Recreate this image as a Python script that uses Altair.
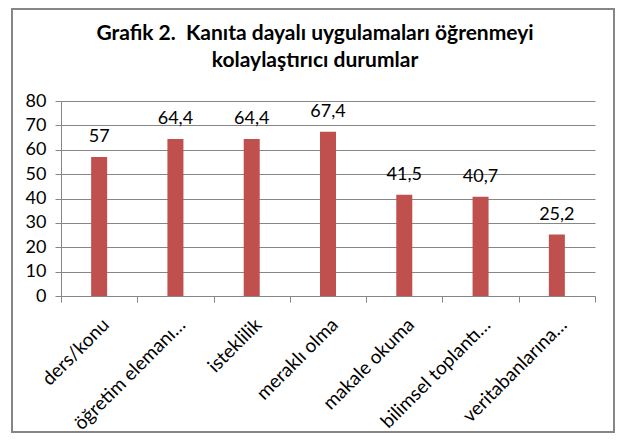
import altair as alt
import pandas as pd

categories = ["ders/konu", "öğretim elemanı…", "isteklilik", "meraklı olma",
              "makale okuma", "bilimsel toplantı…", "veritabanlarına…"]
values = [57, 64.4, 64.4, 67.4, 41.5, 40.7, 25.2]
labels = ["57", "64,4", "64,4", "67,4", "41,5", "40,7", "25,2"]
y_ticks = [0, 10, 20, 30, 40, 50, 60, 70, 80]
title_lines = ["Grafik 2.\u00a0 Kanıta dayalı uygulamaları öğrenmeyi",
               "kolaylaştırıcı durumlar"]

df = pd.DataFrame({"kategori": categories, "deger": values, "etiket": labels})

FONT = "Lato"
GRAY = "#868686"

x_enc = alt.X("kategori:N", sort=categories, title=None,
              scale=alt.Scale(paddingInner=0, paddingOuter=0),
              axis=alt.Axis(labelAngle=-45, labelAlign="right", labelBaseline="top",
                            labelFontSize=19, labelFont=FONT, labelColor="#000000",
                            labelPadding=13, tickSize=6, tickBand="extent",
                            tickColor=GRAY, domainColor=GRAY, labelLimit=300))
y_enc = alt.Y("deger:Q", title=None,
              scale=alt.Scale(domain=[0, 80], nice=False),
              axis=alt.Axis(values=y_ticks, grid=True, gridColor=GRAY,
                            domainColor=GRAY, tickColor=GRAY, tickSize=6,
                            labelFontSize=18, labelFont=FONT, labelColor="#000000",
                            labelPadding=9, labelOverlap=False))

frame = alt.Chart(pd.DataFrame({"f": [0]})).mark_rect(
    fillOpacity=0, stroke=GRAY, strokeWidth=2
).encode(x=alt.value(-49), x2=alt.value(553), y=alt.value(-92), y2=alt.value(331))

bars = alt.Chart(df).mark_bar(size=16, color="#C0504D").encode(x=x_enc, y=y_enc)

text = alt.Chart(df).mark_text(
    dy=-15, baseline="alphabetic", align="center", fontSize=18, font=FONT, color="#000000"
).encode(x=x_enc, y=y_enc, text="etiket:N")

chart = alt.layer(frame, bars, text).properties(
    width=534, height=195,
    autosize=alt.AutoSizeParams(type="none"),
    padding={"left": 53, "top": 93, "right": 20, "bottom": 137},
    background="white",
    title=alt.TitleParams(text=title_lines, font=FONT, fontSize=21, fontWeight="bold",
                          color="#000000", anchor="middle", lineHeight=27,
                          dx=-13, dy=63, offset=0),
).configure_view(strokeWidth=0)

chart.save("out.html", embed_options={"renderer": "svg", "actions": False})
